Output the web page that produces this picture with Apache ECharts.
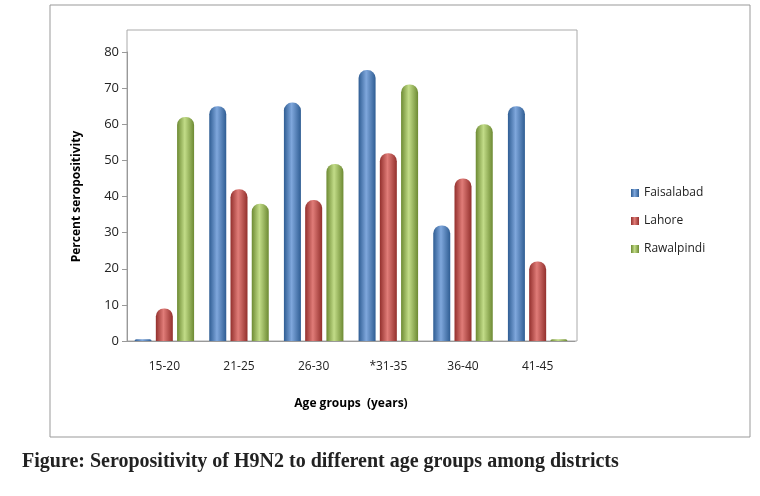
<!DOCTYPE html>
<html><head><meta charset="utf-8">
<script src="https://cdn.jsdelivr.net/npm/echarts@6/dist/echarts.min.js"></script>
<style>html,body{margin:0;padding:0;background:#fff}#c{width:760px;height:496px}</style>
</head><body><div id="c"></div>
<script>
const categories = ['15-20','21-25','26-30','*31-35','36-40','41-45'];
const faisalabad = [0.5, 65, 66, 75, 32, 65];
const lahore = [9, 42, 39, 52, 45, 22];
const rawalpindi = [62, 38, 49, 71, 60, 0.5];
const yTicks = [0,10,20,30,40,50,60,70,80];

function grad(c1,c2){return new echarts.graphic.LinearGradient(0,0,1,0,[{offset:0,color:c1},{offset:0.45,color:c2},{offset:1,color:c1}]);}
const chart = echarts.init(document.getElementById('c'));
const mk = (name,data,c1,c2)=>({name,type:'bar',data,barWidth:17,barGap:'25%',
  itemStyle:{color:grad(c1,c2),borderRadius:[8,8,0,0]}});
chart.setOption({
  animation:false,
  graphic:[
    {type:'rect',shape:{x:50,y:5,width:700,height:432},style:{fill:'none',stroke:'#999',lineWidth:1}},
    {type:'rect',shape:{x:127,y:30,width:450,height:311},style:{fill:'none',stroke:'#aaa',lineWidth:1}},
    {type:'text',left:22,top:452,style:{text:'Figure: Seropositivity of H9N2 to different age groups among districts',font:'bold 20px "Liberation Serif", serif',fill:'#222',letterSpacing:0.6}}
  ],
  grid:{left:127,top:52,width:448,height:289},
  legend:{orient:'vertical',left:626,top:182,itemGap:16,itemWidth:8,itemHeight:8,icon:'rect',
    textStyle:{fontFamily:'Open Sans, sans-serif',fontSize:12,color:'#222'},
    data:['Faisalabad','Lahore','Rawalpindi']},
  xAxis:{type:'category',data:categories,
    name:'Age groups  (years)',nameLocation:'middle',nameGap:57,
    nameTextStyle:{fontFamily:'Open Sans, sans-serif',fontWeight:'bold',fontSize:12,color:'#000'},
    axisLine:{lineStyle:{color:'#999'}},axisTick:{show:false},
    axisLabel:{margin:20,fontFamily:'Open Sans, sans-serif',fontSize:12,color:'#222'}},
  yAxis:{type:'value',min:0,max:80,interval:10,
    name:'Percent seropositivity',nameLocation:'middle',nameGap:44,
    nameTextStyle:{fontFamily:'Open Sans, sans-serif',fontWeight:'bold',fontSize:12,color:'#000'},
    axisLine:{show:true,lineStyle:{color:'#999'}},axisTick:{show:true,lineStyle:{color:'#999'}},
    splitLine:{show:false},
    axisLabel:{formatter:v=>yTicks.includes(v)?String(v):'',fontFamily:'Open Sans, sans-serif',fontSize:13,color:'#222'}},
  series:[
    mk('Faisalabad',faisalabad,'#2f5d93','#7fa7dc'),
    mk('Lahore',lahore,'#93302d','#e07c78'),
    mk('Rawalpindi',rawalpindi,'#6d8a33','#c2dc88')
  ]
});
</script></body></html>
